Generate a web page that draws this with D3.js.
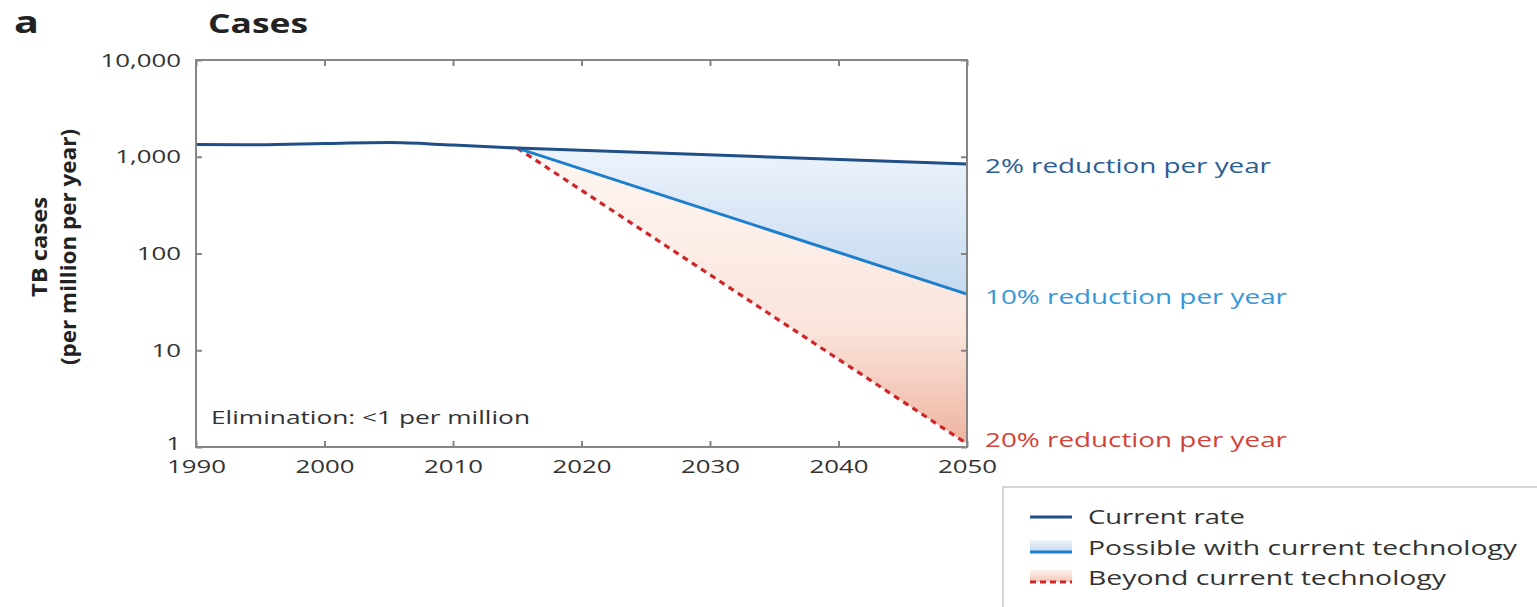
<!DOCTYPE html>
<html>
<head>
<meta charset="utf-8">
<script src="https://cdn.jsdelivr.net/npm/d3@7"></script>
<style>
  body { margin: 0; background: #fff; }
  text { font-family: "Open Sans", sans-serif; }
</style>
</head>
<body>
<script>
// data
const histYears = [1990, 1995, 2000, 2005, 2010, 2015];
const histCases = [1340, 1330, 1370, 1400, 1320, 1230];
const projYears = [2015, 2050];
const currentRate = [1230, 840];
const possibleRate = [1230, 38];
const beyondRate = [1230, 1.08];
const xTicks = [1990, 2000, 2010, 2020, 2030, 2040, 2050];
const yTicks = [1, 10, 100, 1000, 10000];
const endLabels = ["2% reduction per year", "10% reduction per year", "20% reduction per year"];
const legendLabels = ["Current rate", "Possible with current technology", "Beyond current technology"];

const W = 1537, H = 607, SX = 1.36;
const cDark = "#1f4f86", cMid = "#1d7fcc", cRed = "#d0262b", cAxis = "#858585", cText = "#333";

const svg = d3.select("body").append("svg").attr("width", W).attr("height", H);

let x = d3.scaleLinear().domain([1990, 2050]).range([196, 967]),
    y = d3.scaleLog().domain([1, 10000]).range([447, 60]);

// gradients
const defs = svg.append("defs");
let gBlue = defs.append("linearGradient").attr("id", "gBlue")
    .attr("gradientUnits", "userSpaceOnUse").attr("x1", 0).attr("x2", 0).attr("y1", 150).attr("y2", 300);
gBlue.append("stop").attr("offset", 0).attr("stop-color", "#edf3fb");
gBlue.append("stop").attr("offset", 1).attr("stop-color", "#c3d8ef");
let gRed = defs.append("linearGradient").attr("id", "gRed")
    .attr("gradientUnits", "userSpaceOnUse").attr("x1", 0).attr("x2", 0).attr("y1", 150).attr("y2", 447);
gRed.append("stop").attr("offset", 0).attr("stop-color", "#fdf6f2");
gRed.append("stop").attr("offset", 0.6).attr("stop-color", "#fae5dc");
gRed.append("stop").attr("offset", 1).attr("stop-color", "#eeb29f");
let lgBlue = defs.append("linearGradient").attr("id", "lgBlue").attr("x1", 0).attr("x2", 0).attr("y1", 0).attr("y2", 1);
lgBlue.append("stop").attr("offset", 0).attr("stop-color", "#eef4fb");
lgBlue.append("stop").attr("offset", 1).attr("stop-color", "#c3d8ef");
let lgRed = defs.append("linearGradient").attr("id", "lgRed").attr("x1", 0).attr("x2", 0).attr("y1", 0).attr("y2", 1);
lgRed.append("stop").attr("offset", 0).attr("stop-color", "#fdf3ee");
lgRed.append("stop").attr("offset", 1).attr("stop-color", "#f3c6b6");

// shaded bands
const blueBand = projYears.map((t, i) => ({ t, hi: currentRate[i], lo: possibleRate[i] }));
const redBand = projYears.map((t, i) => ({ t, hi: possibleRate[i], lo: beyondRate[i] }));
const band = d3.area().x(d => x(d.t)).y0(d => y(d.lo)).y1(d => y(d.hi));
svg.append("path").datum(redBand).attr("fill", "url(#gRed)").attr("d", band);
svg.append("path").datum(blueBand).attr("fill", "url(#gBlue)").attr("d", band);

// lines
const line = d3.line().x(d => x(d[0])).y(d => y(d[1]));
const zip = (a, b) => a.map((v, i) => [v, b[i]]);
svg.append("path").datum(zip(projYears, beyondRate))
    .attr("fill", "none").attr("stroke", cRed).attr("stroke-width", 3.2)
    .attr("stroke-dasharray", "6,5").attr("d", line);
svg.append("path").datum(zip(projYears, possibleRate))
    .attr("fill", "none").attr("stroke", cMid).attr("stroke-width", 3).attr("d", line);
svg.append("path").datum(zip(projYears, currentRate))
    .attr("fill", "none").attr("stroke", cDark).attr("stroke-width", 3).attr("d", line);
svg.append("path").datum(zip(histYears, histCases))
    .attr("fill", "none").attr("stroke", cDark).attr("stroke-width", 3)
    .attr("d", d3.line().curve(d3.curveMonotoneX).x(d => x(d[0])).y(d => y(d[1])));

// frame + inward ticks
svg.append("rect").attr("x", 196).attr("y", 60).attr("width", 771).attr("height", 387)
    .attr("fill", "none").attr("stroke", cAxis).attr("stroke-width", 2);

let axB = svg.append("g").attr("transform", "translate(0,447)")
    .call(d3.axisBottom(x).tickValues(xTicks).tickFormat(d3.format("d")).tickSize(-6).tickSizeOuter(0).tickPadding(13));
let axL = svg.append("g").attr("transform", "translate(196,0)")
    .call(d3.axisLeft(y).tickValues(yTicks).tickFormat(d3.format(",")).tickSize(-6).tickSizeOuter(0).tickPadding(11));
svg.append("g").attr("transform", "translate(0,60)")
    .call(d3.axisTop(x).tickValues(xTicks).tickFormat("").tickSize(-6).tickSizeOuter(0));
svg.append("g").attr("transform", "translate(967,0)")
    .call(d3.axisRight(y).tickValues(yTicks).tickFormat("").tickSize(-6).tickSizeOuter(0));

svg.selectAll(".domain").remove();
svg.selectAll(".tick line").attr("stroke", cAxis).attr("stroke-width", 2);
svg.selectAll(".tick text").attr("font-size", 19).attr("font-family", "Open Sans")
    .attr("fill", cText).attr("transform", `scale(${SX},1)`);
// lowest y label sits a touch higher so it clears the 1990 label
axL.selectAll(".tick text").filter(d => d === 1).attr("dy", "0.12em");

// end labels
const endY = [166, 297, 440], endCol = ["#2b5d95", "#3597d8", "#d2433a"], endW = [286, 302, 302];
svg.selectAll(".endlab").data(endLabels).join("text")
    .attr("x", 985).attr("y", (d, i) => endY[i]).attr("dy", "0.35em")
    .attr("font-size", 20).attr("fill", (d, i) => endCol[i])
    .attr("textLength", (d, i) => endW[i]).attr("lengthAdjust", "spacingAndGlyphs")
    .text(d => d);

// elimination note
svg.append("text").attr("x", 211).attr("y", 418).attr("dy", "0.35em")
    .attr("font-size", 18).attr("fill", cText)
    .attr("textLength", 319).attr("lengthAdjust", "spacingAndGlyphs")
    .text("Elimination: <1 per million");

// titles
svg.append("text").attr("x", 14).attr("y", 33).attr("font-size", 30).attr("font-weight", "bold")
    .attr("fill", "#222").attr("textLength", 25).attr("lengthAdjust", "spacingAndGlyphs").text("a");
svg.append("text").attr("x", 208).attr("y", 33).attr("font-size", 26).attr("font-weight", "bold")
    .attr("fill", "#222").attr("textLength", 100).attr("lengthAdjust", "spacingAndGlyphs").text("Cases");

svg.append("text").attr("transform", "translate(47,247) rotate(-90)")
    .attr("text-anchor", "middle").attr("font-size", 22).attr("font-weight", "bold").attr("fill", "#222")
    .attr("textLength", 100).attr("lengthAdjust", "spacingAndGlyphs").text("TB cases");
svg.append("text").attr("transform", "translate(76,247) rotate(-90)")
    .attr("text-anchor", "middle").attr("font-size", 22).attr("font-weight", "bold").attr("fill", "#222")
    .attr("textLength", 236).attr("lengthAdjust", "spacingAndGlyphs").text("(per million per year)");

// legend
let lg = svg.append("g");
lg.append("rect").attr("x", 1003).attr("y", 487).attr("width", 545).attr("height", 130)
    .attr("fill", "#fff").attr("stroke", "#c8c8c8").attr("stroke-width", 1.5);
const legY = [517, 548, 578], legW = [157, 429, 358];
lg.append("line").attr("x1", 1030).attr("x2", 1072).attr("y1", legY[0]).attr("y2", legY[0])
    .attr("stroke", cDark).attr("stroke-width", 3);
lg.append("rect").attr("x", 1030).attr("y", legY[1] - 8).attr("width", 42).attr("height", 12).attr("fill", "url(#lgBlue)");
lg.append("line").attr("x1", 1030).attr("x2", 1072).attr("y1", legY[1] + 4).attr("y2", legY[1] + 4)
    .attr("stroke", cMid).attr("stroke-width", 3);
lg.append("rect").attr("x", 1030).attr("y", legY[2] - 8).attr("width", 42).attr("height", 12).attr("fill", "url(#lgRed)");
lg.append("line").attr("x1", 1030).attr("x2", 1072).attr("y1", legY[2] + 4).attr("y2", legY[2] + 4)
    .attr("stroke", cRed).attr("stroke-width", 3).attr("stroke-dasharray", "6,4");
lg.selectAll(".leglab").data(legendLabels).join("text")
    .attr("x", 1088).attr("y", (d, i) => legY[i]).attr("dy", "0.35em")
    .attr("font-size", 20).attr("fill", cText)
    .attr("textLength", (d, i) => legW[i]).attr("lengthAdjust", "spacingAndGlyphs")
    .text(d => d);
</script>
</body>
</html>
